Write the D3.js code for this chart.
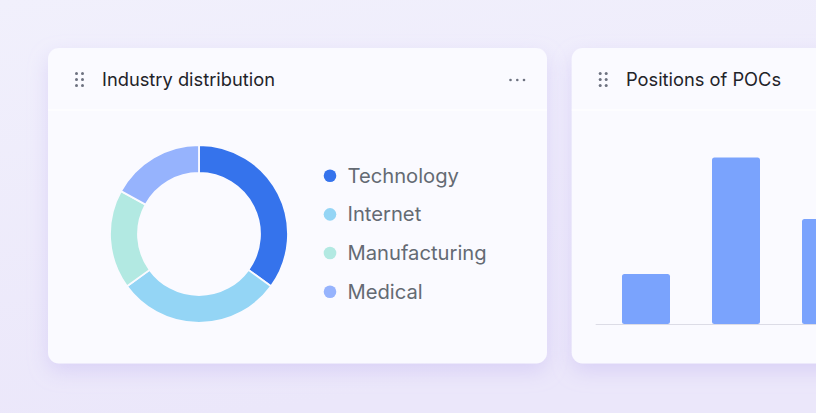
<!DOCTYPE html>
<html>
<head>
<meta charset="utf-8">
<script src="https://cdn.jsdelivr.net/npm/d3@7/dist/d3.min.js"></script>
<style>
  html, body { margin: 0; padding: 0; background: #eeedfb; }
  svg { display: block; }
</style>
</head>
<body>
<svg id="chart" width="816" height="413"></svg>
<script>
// ---- data ----
const industries = ["Technology", "Internet", "Manufacturing", "Medical"];
const industryValues = [35, 30, 18, 17];
const industryColors = ["#3573ec", "#94d5f5", "#b2e9e2", "#96b3fd"];

const positions = ["Executive", "Manager", "Engineer"];
const positionValues = [30, 100, 63];

const titles = ["Industry distribution", "Positions of POCs"];

// ---- drawing ----
const svg = d3.select("#chart");
const W = 816, H = 413;
const defs = svg.append("defs");

const bg = defs.append("linearGradient").attr("id", "bg")
  .attr("x1", "0").attr("y1", "0").attr("x2", "0.3").attr("y2", "1");
bg.append("stop").attr("offset", "0").attr("stop-color", "#f1f0fc");
bg.append("stop").attr("offset", "1").attr("stop-color", "#ebe7fa");

const sh = defs.append("filter").attr("id", "shadow")
  .attr("x", "-20%").attr("y", "-20%").attr("width", "140%").attr("height", "150%");
sh.append("feDropShadow").attr("dx", 0).attr("dy", 8).attr("stdDeviation", 10)
  .attr("flood-color", "#b9a9f0").attr("flood-opacity", 0.35);

svg.append("rect").attr("width", W).attr("height", H).attr("fill", "url(#bg)");

const font = "Inter, 'Noto Sans', sans-serif";

function card(x, y, w, h, title, titleX) {
  const g = svg.append("g");
  g.append("rect").attr("x", x).attr("y", y).attr("width", w).attr("height", h)
    .attr("rx", 11).attr("fill", "#fafaff").attr("filter", "url(#shadow)");
  g.append("line").attr("x1", x).attr("x2", x + w).attr("y1", 110).attr("y2", 110)
    .attr("stroke", "#ffffff").attr("stroke-width", 1.2);
  // drag handle
  const hx = x + 28.5, hy = 73.5;
  for (let r = 0; r < 3; r++) for (let c = 0; c < 2; c++) {
    g.append("circle").attr("cx", hx + c * 6).attr("cy", hy + r * 6).attr("r", 1.5)
      .attr("fill", "#6d7280");
  }
  g.append("text").attr("x", titleX).attr("y", 85.5).text(title)
    .attr("font-family", font).attr("font-size", 18.3).attr("font-weight", 400)
    .attr("fill", "#1f2329");
  return g;
}

// Card 1
const c1 = card(48, 48, 499, 315.5, titles[0], 102);
[510.5, 517.3, 524].forEach(cx =>
  c1.append("circle").attr("cx", cx).attr("cy", 80).attr("r", 1.3).attr("fill", "#6d7280"));

const pie = d3.pie().sort(null).value(d => d)(industryValues);
const arc = d3.arc().innerRadius(61).outerRadius(89);
const color = d3.scaleOrdinal().domain(industries).range(industryColors);
const donut = c1.append("g").attr("transform", "translate(199,234)");
donut.selectAll("path").data(pie).join("path")
  .attr("d", arc)
  .attr("fill", (d, i) => color(industries[i]))
  .attr("stroke", "#fafaff").attr("stroke-width", 1.8);

const ly = d3.scalePoint().domain(industries).range([175.7, 291.7]);
const leg = c1.append("g");
leg.selectAll("circle").data(industries).join("circle")
  .attr("cx", 330).attr("cy", d => ly(d)).attr("r", 6.3).attr("fill", d => color(d));
leg.selectAll("text").data(industries).join("text")
  .attr("x", 347.5).attr("y", d => ly(d)).attr("dy", "0.35em")
  .text(d => d)
  .attr("font-family", font).attr("font-size", 20.2).attr("fill", "#646a73");

// Card 2
const c2 = card(571.7, 48, 300, 315.5, titles[1], 626);
const xb = d3.scaleBand().domain(positions).range([601, 871])
  .paddingInner(0.4667).paddingOuter(0.2333);
const yb = d3.scaleLinear().domain([0, 100]).range([324, 157.5]);
c2.append("line").attr("x1", 595.7).attr("x2", 816).attr("y1", yb(0) + 0.5).attr("y2", yb(0) + 0.5)
  .attr("stroke", "#dcdce6").attr("stroke-width", 1);
c2.selectAll("rect.bar").data(positionValues).join("rect").attr("class", "bar")
  .attr("x", (d, i) => xb(positions[i]))
  .attr("y", d => yb(d))
  .attr("width", xb.bandwidth())
  .attr("height", d => yb(0) - yb(d))
  .attr("rx", 2.5)
  .attr("fill", "#7aa3fd");
</script>
</body>
</html>
